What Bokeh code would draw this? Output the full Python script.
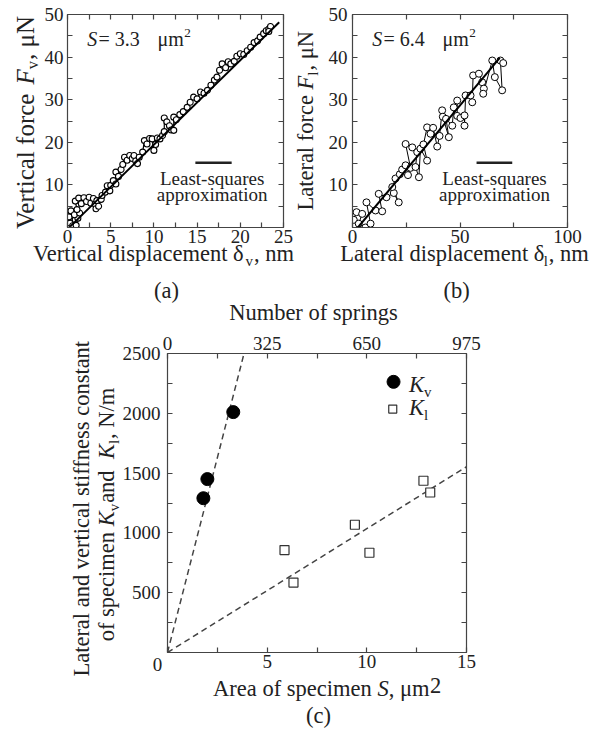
import numpy as np
from bokeh.plotting import figure
from bokeh.models import Range1d, LinearAxis, FixedTicker, Label
from bokeh.layouts import column, row
from bokeh.embed import file_html
from bokeh.resources import INLINE

FONT = "Liberation Serif"
AX = "#444444"
TXT = "#222222"

# ---------------- data ----------------
# (a) vertical displacement (nm) vs vertical force (uN), S = 3.3 um^2
a_disp = [0.3, 0.5, 0.2, 0.6, 0.9, 0.4, 1.0, 1.2, 0.8, 1.4, 1.1,
          0.9, 1.3, 1.6, 1.9, 2.2, 2.5, 2.7, 3.0, 3.2, 3.4, 3.3, 3.6, 3.9,
          4.0, 4.4, 4.6, 4.9, 5.0, 5.3, 5.6, 5.6, 5.9, 6.2, 6.4, 6.6, 6.9,
          7.2, 7.5, 7.7, 7.9, 8.1, 8.3, 8.7, 8.9, 9.2, 9.5, 9.8, 10.0, 10.2,
          10.4, 10.7, 11.0, 11.2, 11.2, 11.5, 11.8, 12.0, 12.3, 12.3, 12.6,
          13.0, 13.4, 13.85, 14.2, 14.6, 15.0, 15.4, 15.8, 16.2, 16.6, 17.0,
          17.3, 17.6, 17.9, 18.3, 18.6, 18.9, 19.3, 19.6, 20.0, 20.4, 20.8,
          21.2, 21.6, 22.0, 22.3, 22.7, 23.0, 23.3, 23.5, 23.3]
a_force = [1.0, 3.6, 2.5, 0.4, 1.8, 3.9, 0.5, 2.2, 3.0, 3.4, 4.2,
           6.2, 6.9, 5.6, 7.0, 6.1, 7.1, 5.7, 6.8, 5.5, 6.3, 4.4, 5.0, 6.6,
           7.5, 8.3, 9.8, 8.6, 9.9, 11.0, 10.2, 13.0, 12.0, 13.6, 14.8, 16.5, 15.8,
           16.9, 16.2, 16.9, 15.6, 15.0, 16.5, 17.7, 20.4, 19.6, 20.9, 20.8, 18.1, 19.5,
           21.0, 20.8, 21.6, 22.5, 25.7, 24.8, 23.9, 22.9, 22.8, 25.9, 25.3,
           26.5, 27.2, 28.2, 29.4, 30.6, 30.2, 31.8, 31.5, 32.2, 33.4, 34.6,
           35.3, 36.9, 38.4, 37.5, 38.9, 38.4, 39.0, 40.2, 40.8, 40.6, 41.5,
           42.3, 43.4, 43.8, 44.7, 45.5, 46.2, 46.6, 47.2, 46.0]
a_fit_disp = [0.3, 24.5]
a_fit_force = [0.2, 48.2]

# (b) lateral displacement (nm) vs lateral force (uN), S = 6.4 um^2
b_disp = [0.6, 1.9, 4.5, 2.9, 6.0, 8.4, 6.5, 10.7, 13.8, 12.2, 15.8, 19.2,
          21.5, 18.5, 20.0, 22.0, 23.1, 24.7, 25.8, 27.0, 24.7, 27.8, 30.1,
          29.3, 30.9, 31.6, 34.7, 33.0, 34.7, 36.3, 37.5, 39.4, 40.5, 41.7,
          42.0, 44.8, 43.5, 46.4, 47.1, 48.7, 48.7, 50.2, 52.1, 52.1, 52.6,
          54.9, 55.7, 56.1, 58.8, 60.3, 61.1, 60.8, 65.0, 66.2, 69.6, 68.8, 70.1]
b_force = [1.8, 3.6, 3.2, 0.9, 0.0, 0.9, 5.9, 4.0, 3.8, 7.9, 7.1, 8.1,
           5.9, 9.5, 11.5, 12.5, 13.6, 14.6, 12.3, 14.0, 19.6, 18.8, 17.7,
           14.2, 11.8, 18.5, 15.7, 19.5, 23.5, 22.0, 23.4, 19.0, 21.5, 27.5,
           26.0, 21.2, 25.5, 23.9, 28.2, 29.8, 26.2, 25.7, 26.3, 23.9, 31.0,
           31.0, 29.4, 35.7, 36.1, 34.1, 32.6, 31.4, 39.2, 35.3, 32.2, 39.2, 38.6]
b_fit_disp = [2.5, 68.5]
b_fit_force = [0.0, 39.8]

# (c) stiffness constants vs specimen area
c_area_v = [1.8, 2.0, 3.3]
c_kv = [1290, 1450, 2010]
c_area_l = [5.87, 6.32, 9.40, 10.13, 12.84, 13.18]
c_kl = [856, 585, 1068, 834, 1436, 1338]
c_fitv_area = [0.0, 3.84]
c_fitv_k = [0, 2500]
c_fitl_area = [0.0, 15.0]
c_fitl_k = [0, 1553]

# ticks
a_xticks = [0, 5, 10, 15, 20, 25]
a_yticks = [0, 10, 20, 30, 40, 50]
b_xticks = [0, 50, 100]
c_xticks = [0, 5, 10, 15]
c_yticks = [0, 500, 1000, 1500, 2000, 2500]
c_springs = [0, 325, 650, 975]

# ------------- text helpers (Times-metric widths) -------------
W = {' ': 250, ',': 250, '.': 250, '-': 333, '/': 278, '(': 333, ')': 333,
     '=': 564, 'A': 722, 'F': 556, 'L': 611, 'N': 722, 'S': 556, 'V': 722,
     'K': 722, 'a': 444, 'b': 500, 'c': 444, 'd': 500, 'e': 444, 'f': 333,
     'g': 500, 'h': 500, 'i': 278, 'k': 500, 'l': 278, 'm': 778, 'n': 500,
     'o': 500, 'p': 500, 'q': 500, 'r': 333, 's': 389, 't': 278, 'u': 500,
     'v': 500, 'x': 500, 'y': 500, 'μ': 560, 'δ': 440}
WI = {'S': 500, 'F': 611, 'K': 667}
BASE = 0.34  # baseline correction (em)


def psize(kind, size):
    return size * (0.66 if kind in ("sub", "sup") else 1.0)


def piece_width(t, kind, size):
    tab = WI if kind == "i" else {}
    w = sum(tab.get(c, W.get(c, 500)) for c in t) / 1000.0 * psize(kind, size)
    return w + (1.0 if kind == "sub" else 0.0)


def compose(p, pieces, x, y, size, angle=0.0, align="left"):
    widths = [piece_width(t, k, size) for t, k in pieces]
    pos = -sum(widths) / 2.0 if align == "center" else 0.0
    for (t, k), w in zip(pieces, widths):
        f = psize(k, size)
        shift = {"sub": -0.2 * size, "sup": 0.38 * size, "raise": 0.15 * size}.get(k, 0.0)
        shift += BASE * f
        if angle == 0.0:
            lx, ly = x + pos, y + shift
        else:
            lx, ly = x - shift, y + pos
        p.add_layout(Label(x=lx, y=ly, x_units="screen", y_units="screen", text=t,
                           text_font=FONT, text_font_size=f"{f:.1f}px",
                           text_font_style="italic" if k == "i" else "normal",
                           text_baseline="alphabetic", text_align="left",
                           angle=angle, text_color=TXT))
        pos += w


def style_axis(ax, labels=True, standoff=2):
    ax.axis_line_color = AX
    ax.axis_line_width = 1.2
    ax.major_tick_line_color = AX
    ax.minor_tick_line_color = AX
    ax.major_tick_line_width = 1.2
    ax.minor_tick_line_width = 1.2
    ax.major_tick_in = 5
    ax.major_tick_out = 0
    ax.minor_tick_in = 5
    ax.minor_tick_out = 0
    ax.major_label_text_font = FONT
    if labels:
        ax.major_label_text_font_size = "19px"
        ax.major_label_text_color = TXT
        ax.major_label_standoff = standoff
    else:
        ax.major_label_text_font_size = "1px"
        ax.major_label_text_color = None
        ax.major_label_standoff = 0


def base_fig(fw, fh, xr, yr, bl, br, bt, bb):
    p = figure(frame_width=fw, frame_height=fh, x_range=xr, y_range=yr,
               output_backend="svg", toolbar_location=None,
               min_border_left=bl, min_border_right=br,
               min_border_top=bt, min_border_bottom=bb)
    p.frame_align = False
    p.xgrid.visible = False
    p.ygrid.visible = False
    p.outline_line_color = AX
    p.background_fill_color = "white"
    p.border_fill_color = "white"
    return p


def frame_axes(p, xt, xm, yt, ym, xover=None, yover=None, top=True, ystand=4):
    p.xaxis.ticker = FixedTicker(ticks=xt, minor_ticks=xm)
    p.yaxis.ticker = FixedTicker(ticks=yt, minor_ticks=ym)
    style_axis(p.xaxis[0], standoff=2)
    style_axis(p.yaxis[0], standoff=ystand)
    if xover:
        p.xaxis.major_label_overrides = xover
    if yover:
        p.yaxis.major_label_overrides = yover
    if top:
        ta = LinearAxis(ticker=FixedTicker(ticks=xt, minor_ticks=xm))
        style_axis(ta, labels=False)
        p.add_layout(ta, "above")
    ra = LinearAxis(ticker=FixedTicker(ticks=yt, minor_ticks=ym))
    style_axis(ra, labels=False)
    p.add_layout(ra, "right")


def in_label(p, text, x, y, size=19, align="center"):
    p.add_layout(Label(x=x, y=y + BASE * size, x_units="screen", y_units="screen", text=text,
                       text_font=FONT, text_font_size=f"{size}px", text_align=align,
                       text_baseline="alphabetic", text_color=TXT))


# ---------------- panel (a) ----------------
p1 = base_fig(216, 213, Range1d(0, 25), Range1d(0, 50), 67, 17, 14, 80)
frame_axes(p1, a_xticks, [2.5, 7.5, 12.5, 17.5, 22.5],
           a_yticks, [5, 15, 25, 35, 45], yover={0: ""}, ystand=4)
p1.line(a_disp, a_force, line_color="black", line_width=1.2)
p1.scatter(a_disp, a_force, size=6, marker="circle", fill_color="white",
           line_color="black", line_width=1.1)
p1.line(a_fit_disp, a_fit_force, line_color="black", line_width=2)
p1.line([14.8, 19.0], [15.2, 15.2], line_color="#222", line_width=2.5)
in_label(p1, "Least-squares", 144.7, 43)
in_label(p1, "approximation", 144.7, 27)
compose(p1, [("S", "i")], 19.7, 182, 20)
compose(p1, [("= 3.3", "r")], 31, 182, 20)
compose(p1, [("μm", "r"), ("2", "sup")], 90, 182, 20)

# ---------------- panel (b) ----------------
p2 = base_fig(215, 213, Range1d(0, 100), Range1d(0, 50), 52, 18, 14, 80)
frame_axes(p2, b_xticks, [25, 75], a_yticks, [5, 15, 25, 35, 45], yover={0: ""}, ystand=5)
p2.line(b_disp, b_force, line_color="black", line_width=1)
p2.scatter(b_disp, b_force, size=7, marker="circle", fill_color="white",
           line_color="black", line_width=1)
p2.line(b_fit_disp, b_fit_force, line_color="black", line_width=2)
p2.line([57.7, 74.3], [15.2, 15.2], line_color="#222", line_width=2.5)
in_label(p2, "Least-squares", 142, 43)
in_label(p2, "approximation", 142, 27)
compose(p2, [("S", "i")], 19.7, 182, 20)
compose(p2, [("= 6.4", "r")], 31, 182, 20)
compose(p2, [("μm", "r"), ("2", "sup")], 90, 182, 20)

# ---------------- panel (c) ----------------
p3 = base_fig(299, 299, Range1d(0, 15), Range1d(0, 2500), 167, 40, 46, 78)
p3.extra_x_ranges = {"springs": Range1d(0, 975)}
frame_axes(p3, c_xticks, [2.5, 7.5, 12.5], c_yticks,
           [250, 750, 1250, 1750, 2250], xover={0: ""}, yover={0: ""}, top=False, ystand=7)
ta = LinearAxis(x_range_name="springs",
                ticker=FixedTicker(ticks=c_springs, minor_ticks=[162.5, 487.5, 812.5]))
style_axis(ta, standoff=4)
p3.add_layout(ta, "above")
p3.line(c_fitv_area, c_fitv_k, line_color="#444", line_width=1.5, line_dash="6 4")
p3.line(c_fitl_area, c_fitl_k, line_color="#444", line_width=1.5, line_dash="6 4")
p3.scatter(c_area_v, c_kv, size=13, marker="circle", fill_color="black", line_color="black")
p3.scatter(c_area_l, c_kl, size=9, marker="square", fill_color="white",
           line_color="#333", line_width=1.2)
# legend
p3.scatter([11.34], [2263], size=13, marker="circle", fill_color="black", line_color="black")
p3.scatter([11.30], [2035], size=8, marker="square", fill_color="white",
           line_color="#333", line_width=1.2)
compose(p3, [("K", "i"), ("v", "sub")], 241.6, 260.3, 22.5)
compose(p3, [("K", "i"), ("l", "sub")], 241.6, 237, 22.5)

# ---------------- transparent text layer over the whole page ----------------
H = 730
tf = figure(width=601, height=H, x_range=Range1d(0, 601), y_range=Range1d(0, H),
            output_backend="svg", toolbar_location=None, min_border=0,
            x_axis_location=None, y_axis_location=None)
tf.frame_align = False
tf.grid.visible = False
tf.outline_line_color = None
tf.background_fill_color = None
tf.border_fill_color = None
tf.margin = (-H, 0, 0, 0)

AL = 22.5
# panel (a)
compose(tf, [("Vertical displacement δ", "r"), ("v", "sub"), (", nm", "r")], 163, H - 261, AL,
        align="center")
compose(tf, [("Vertical force ", "r"), ("F", "i"), ("v", "sub"), (", μN", "r")], 33, H - 121.7, 25,
        angle=np.pi / 2, align="center")
in_label(tf, "(a)", 166, H - 297.5, size=AL)
# panel (b)
compose(tf, [("Lateral displacement δ", "r"), ("l", "sub"), (", nm", "r")], 464, H - 261, AL,
        align="center")
compose(tf, [("Lateral force ", "r"), ("F", "i"), ("l", "sub"), (", μN", "r")], 313, H - 120, AL,
        angle=np.pi / 2, align="center")
in_label(tf, "(b)", 456, H - 297.5, size=AL)
# panel (c)
in_label(tf, "Number of springs", 313, H - 320, size=AL)
tf.add_layout(Label(x=157, y=H - 664, x_units="screen", y_units="screen", text="0",
                    text_font=FONT, text_font_size="19px", text_align="center",
                    text_baseline="middle", text_color=TXT))
compose(tf, [("Area of specimen ", "r"), ("S", "i"), (", μm", "r"), ("2", "raise")], 326.7, H - 696, AL,
        align="center")
compose(tf, [("Lateral and vertical stiffness constant", "r")], 89, H - 508, AL,
        angle=np.pi / 2, align="center")
compose(tf, [("of specimen ", "r"), ("K", "i"), ("v", "sub"), (" and ", "r"), ("K", "i"),
             ("l", "sub"), (", N/m", "r")], 114, H - 514, AL, angle=np.pi / 2, align="center")
in_label(tf, "(c)", 318, H - 723, size=AL)

layout = column(row(p1, p2), p3, tf)
open("out.html", "w").write(file_html(layout, INLINE))
